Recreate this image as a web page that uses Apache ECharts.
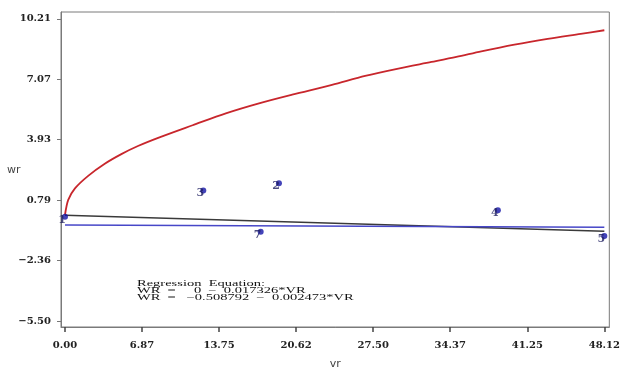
<!DOCTYPE html>
<html>
<head>
<meta charset="utf-8">
<script src="https://cdn.jsdelivr.net/npm/echarts@6/dist/echarts.min.js"></script>
<style>
  html, body { margin: 0; padding: 0; background: #fff; }
  #chart { width: 623px; height: 375px; }
</style>
</head>
<body>
<div id="chart"></div>
<script>
// Axis tick values
const xTicks = [0.00, 6.87, 13.75, 20.62, 27.50, 34.37, 41.25, 48.12];
const yTicks = [-5.50, -2.36, 0.79, 3.93, 7.07, 10.21];

// Fitted curve (vr, wr)
const curveVr = [0, 0.29, 0.89, 2.07, 3.55, 5.03, 6.51, 8.43, 11.39, 14.35, 17.31, 20.27,
                 23.82, 26.78, 29.74, 32.70, 34.92, 37.14, 40.10, 43.06, 46.01, 48.12];
const curveWr = [0.02, 0.80, 1.40, 2.05, 2.68, 3.18, 3.60, 4.05, 4.68, 5.30, 5.82, 6.27,
                 6.78, 7.25, 7.63, 7.97, 8.23, 8.52, 8.87, 9.17, 9.43, 9.62];

// Observations
const obsLabel = ['1', '2', '3', '4', '5', '7'];
const obsVr = [0.00, 19.09, 12.34, 38.62, 48.12, 17.46];
const obsWr = [-0.08, 1.66, 1.29, 0.26, -1.07, -0.86];

// Regression lines: [intercept, slope]
const fitA = [0, -0.017326];
const fitB = [-0.508792, -0.002473];
const fitRange = [0, 48.12];

const fmt = v => (v < 0 ? '\u2212' + Math.abs(v).toFixed(2) : v.toFixed(2));
const lineFrom = c => fitRange.map(x => [x, c[0] + c[1] * x]);

const serif = '"DejaVu Serif", "Liberation Serif", serif';

const chart = echarts.init(document.getElementById('chart'), null, { renderer: 'canvas' });
chart.setOption({
  animation: false,
  backgroundColor: '#fff',
  grid: { left: 61, right: 11, top: 12, bottom: 43, show: true, borderColor: '#7a7a7a', borderWidth: 1 },
  xAxis: {
    type: 'value', min: -0.355, max: 48.564,
    name: 'vr', nameLocation: 'middle', nameGap: 32,
    nameTextStyle: { fontFamily: 'DejaVu Sans', fontSize: 11, color: '#444' },
    axisLine: { show: true, onZero: false, lineStyle: { color: '#7a7a7a' } },
    axisTick: { show: true, length: 5, customValues: xTicks, lineStyle: { color: '#444', width: 1.5 } },
    axisLabel: { customValues: xTicks, formatter: fmt, margin: 13,
      fontFamily: serif, fontWeight: 'bold', fontSize: 10, color: '#222' },
    splitLine: { show: false }
  },
  yAxis: {
    type: 'value', min: -5.807, max: 10.568,
    axisLine: { show: true, onZero: false, lineStyle: { color: '#7a7a7a' } },
    axisTick: { show: true, length: 4, customValues: yTicks, lineStyle: { color: '#777' } },
    axisLabel: { customValues: yTicks, formatter: fmt, margin: 10,
      fontFamily: serif, fontWeight: 'bold', fontSize: 10, color: '#222' },
    splitLine: { show: false }
  },
  graphic: [
    { type: 'text', left: 7, top: 165,
      style: { text: 'wr', fontFamily: 'DejaVu Sans', fontSize: 11, fill: '#444' } },
    { type: 'text', x: 137, y: 280, scaleY: 0.6, originX: 0, originY: 0,
      style: {
        text: 'Regression  Equation:\nWR  =     0  \u2212  0.017326*VR\nWR  =   \u22120.508792  \u2212  0.002473*VR',
        fontFamily: '"Liberation Serif", serif', fontSize: 14.5, lineHeight: 11.5, fill: '#111'
      } }
  ],
  series: [
    {
      type: 'line', name: 'curve', smooth: 0.3, showSymbol: false,
      data: curveVr.map((x, i) => [x, curveWr[i]]),
      lineStyle: { color: '#c8262c', width: 1.8 }, z: 3
    },
    {
      type: 'line', name: 'fitA', showSymbol: false, data: lineFrom(fitA),
      lineStyle: { color: '#3a3a3a', width: 1.5 }, z: 2
    },
    {
      type: 'line', name: 'fitB', showSymbol: false, data: lineFrom(fitB),
      lineStyle: { color: '#4747c8', width: 1.5 }, z: 2
    },
    {
      type: 'scatter', name: 'obs', symbolSize: 6,
      data: obsVr.map((x, i) => ({ value: [x, obsWr[i]], name: obsLabel[i] })),
      itemStyle: { color: '#1414a8' },
      label: { show: true, position: 'inside', offset: [-3, 3], formatter: p => p.name,
        fontFamily: serif, fontWeight: 'bold', fontSize: 11, color: '#1e1e60' },
      z: 5
    }
  ]
});
</script>
</body>
</html>
